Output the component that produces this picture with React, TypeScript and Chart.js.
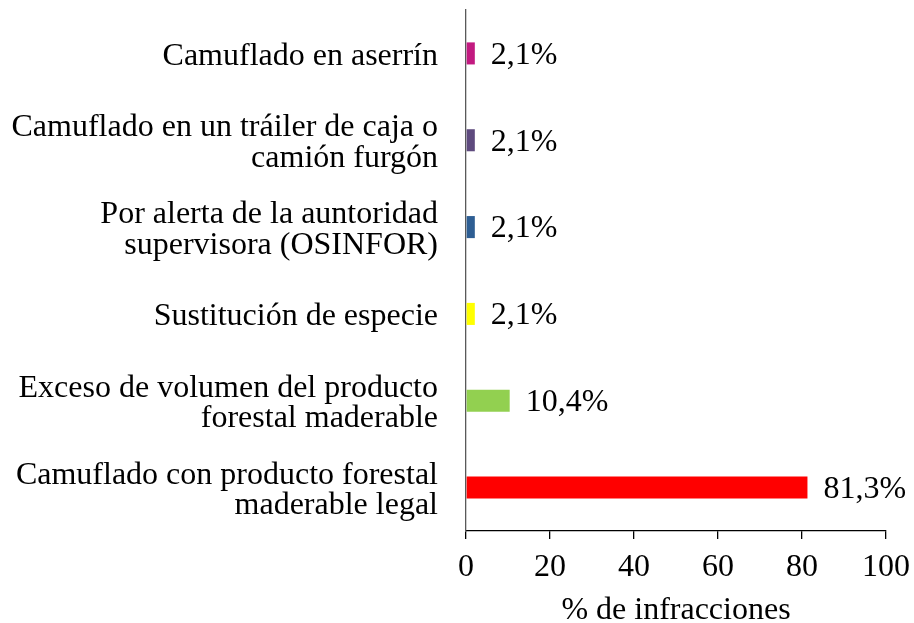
import React, { useEffect, useRef } from "react";
import { Chart, registerables } from "chart.js";

Chart.register(...registerables);

const categories: (string | string[])[] = [
  "Camuflado en aserrín",
  ["Camuflado en un tráiler de caja o", "camión furgón"],
  ["Por alerta de la auntoridad", "supervisora (OSINFOR)"],
  "Sustitución de especie",
  ["Exceso de volumen del producto", "forestal maderable"],
  ["Camuflado con producto forestal", "maderable legal"],
];
const values = [2.1, 2.1, 2.1, 2.1, 10.4, 81.3];
const valueLabels = ["2,1%", "2,1%", "2,1%", "2,1%", "10,4%", "81,3%"];
const barColors = ["#c21a80", "#5e4a7e", "#2e5e93", "#ffff00", "#92d050", "#ff0000"];
const xTicks = [0, 20, 40, 60, 80, 100];
const xTitle = "% de infracciones";

const FONT = "'Liberation Serif', 'Times New Roman', serif";

const valueLabelPlugin = {
  id: "valueLabels",
  afterDatasetsDraw(chart: any) {
    const ctx = chart.ctx;
    const meta = chart.getDatasetMeta(0);
    ctx.save();
    ctx.font = `32px ${FONT}`;
    ctx.fillStyle = "#000";
    ctx.textAlign = "left";
    ctx.textBaseline = "middle";
    meta.data.forEach((bar: any, i: number) => {
      ctx.fillText(valueLabels[i], bar.x + 16, bar.y + 2);
    });
    ctx.restore();
  },
};

export default function App() {
  const ref = useRef<HTMLCanvasElement>(null);
  useEffect(() => {
    if (!ref.current) return;
    const chart = new Chart(ref.current, {
      type: "bar",
      data: {
        labels: categories,
        datasets: [
          {
            data: values,
            backgroundColor: barColors,
            borderWidth: 0,
            categoryPercentage: 1,
            barPercentage: 0.254,
          },
        ],
      },
      options: {
        indexAxis: "y",
        animation: false,
        responsive: false,
        maintainAspectRatio: false,
        layout: { padding: { top: 10, right: 28, left: 0, bottom: -4 } },
        plugins: {
          legend: { display: false },
          tooltip: { enabled: false },
        },
        scales: {
          x: {
            min: 0,
            max: 100,
            afterBuildTicks: (axis: any) => {
              axis.ticks = xTicks.map((v) => ({ value: v }));
            },
            afterFit: (axis: any) => {
              axis.paddingLeft = 0;
              axis.paddingRight = 0;
            },
            border: { display: true, color: "#000", width: 1.3 },
            grid: {
              display: true,
              drawOnChartArea: false,
              drawTicks: true,
              tickLength: 8,
              color: "#000",
              lineWidth: 1.3,
            },
            ticks: {
              color: "#000",
              font: { family: FONT, size: 32, lineHeight: 1 },
              padding: 13,
              maxRotation: 0,
            },
            title: {
              display: true,
              text: xTitle,
              color: "#000",
              font: { family: FONT, size: 32, lineHeight: 1 },
              padding: { top: -2, bottom: 0 },
            },
          },
          y: {
            afterFit: (axis: any) => {
              axis.paddingTop = 0;
              axis.paddingBottom = 0;
              axis.width = 466;
            },
            border: { display: true, color: "#595959", width: 1.3 },
            grid: { display: false, drawTicks: false },
            ticks: {
              color: "#000",
              font: { family: FONT, size: 32, lineHeight: 0.95 },
              padding: 28,
              labelOffset: 3,
            },
          },
        },
      },
      plugins: [valueLabelPlugin],
    });
    return () => chart.destroy();
  }, []);
  return (
    <div style={{ position: "fixed", left: 0, top: 0, width: 914, height: 623, background: "#fff" }}>
      <canvas ref={ref} width={914} height={623} style={{ width: 914, height: 623 }} />
    </div>
  );
}
